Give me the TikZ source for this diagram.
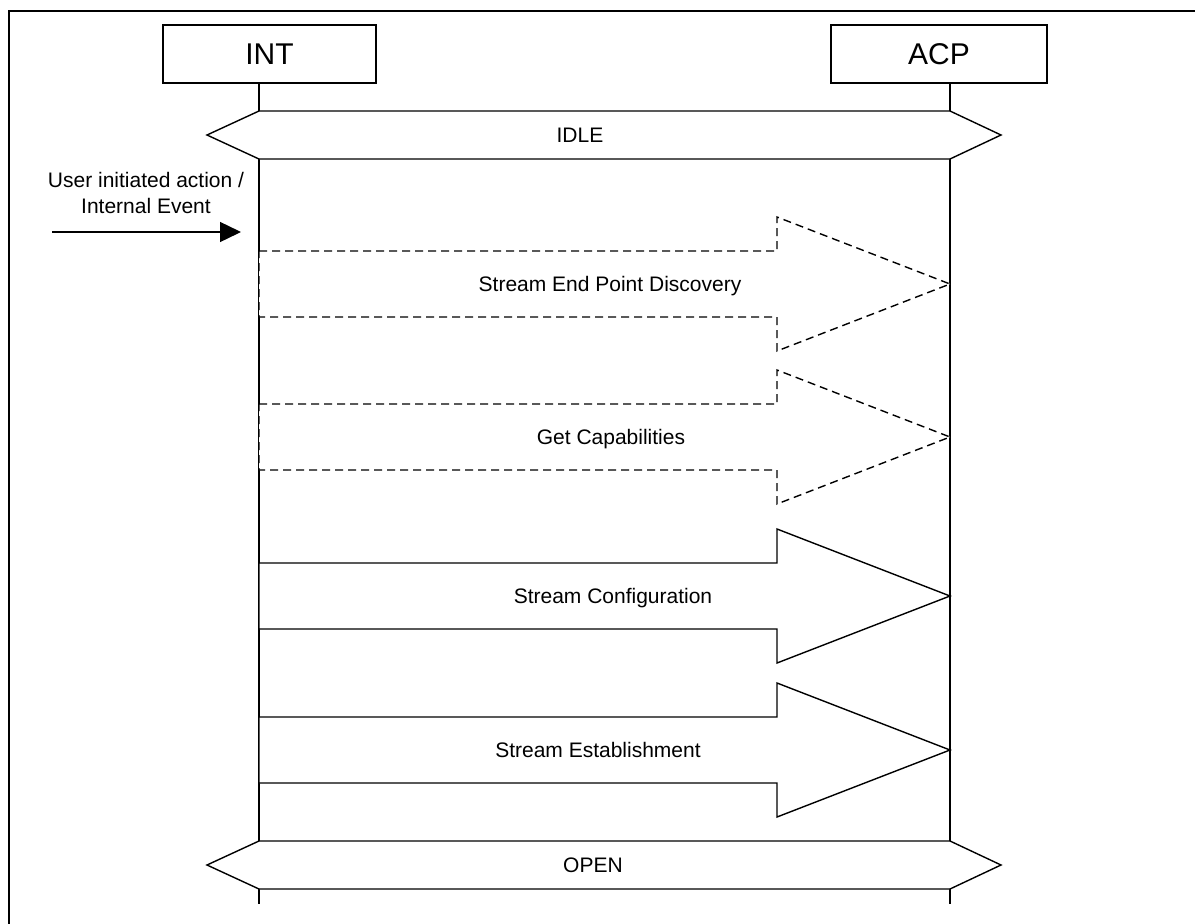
\documentclass[tikz,border=0pt]{standalone}
\usepackage{fontspec}
\setmainfont{Liberation Sans}
\usetikzlibrary{arrows.meta}
\tikzset{
  entity/.style={draw, line width=1.4pt, minimum height=58pt, minimum width=213pt,
    font=\fontsize{30}{36}\selectfont},
  lifeline/.style={line width=1.4pt},
  statebar/.style={draw, fill=white, line width=1.4pt},
  msg/.style={draw, fill=white, line width=1.4pt},
  msgdash/.style={dash pattern=on 8pt off 5pt},
  msglabel/.style={anchor=base, font=\fontsize{21}{24}\selectfont},
}
\begin{document}
\begin{tikzpicture}[x=1pt, y=-1pt]
\useasboundingbox (0,0) rectangle (1195,924);
\draw[line width=1.8pt] (9,924) -- (9,11) -- (1195,11);

% entities
\node[entity] (int) at (269.5,54) {INT};
\node[entity, minimum width=216pt] (acp) at (939,54) {ACP};

% lifelines
\coordinate (int top) at (259,83);
\coordinate (int bot) at (259,904);
\coordinate (acp top) at (950,83);
\coordinate (acp bot) at (950,904);
\draw[lifeline] (int top) -- (int bot);
\draw[lifeline] (acp top) -- (acp bot);

% trigger
\node[align=center, font=\fontsize{21}{26}\selectfont] (user) at (146,193) {User initiated action /\\Internal Event};
\coordinate (ev start) at (52,232);
\coordinate (ev end) at (241,232);
\draw[line width=1.4pt, -{Triangle[length=21pt,width=20pt]}] (ev start) -- (ev end);

% procedures
\foreach \y/\sty/\lx/\name/\txt in {284/msgdash/610/sepd/Stream End Point Discovery,
    437/msgdash/611/caps/Get Capabilities,
    596/solid/613/conf/Stream Configuration,
    750/solid/598/est/Stream Establishment}{
  \draw[msg, \sty] (259,\y-33) -- (777,\y-33) -- (777,\y-67) -- (950,\y)
    -- (777,\y+67) -- (777,\y+33) -- (259,\y+33) -- cycle;
  \node[msglabel] (\name) at (\lx,\y+7.5) {\txt};
}

% states
\draw[statebar] (207,135) -- (259,111) -- (950,111) -- (1001,135) -- (950,159) -- (259,159) -- cycle;
\node[msglabel] (idle) at (580,142.5) {IDLE};
\draw[statebar] (207,865) -- (259,841) -- (950,841) -- (1001,865) -- (950,889) -- (259,889) -- cycle;
\node[msglabel] (open) at (593,872.5) {OPEN};
\end{tikzpicture}
\end{document}
